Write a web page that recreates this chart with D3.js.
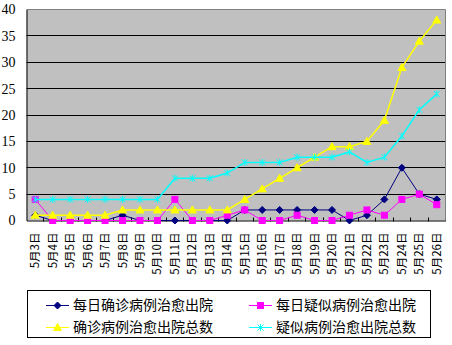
<!DOCTYPE html>
<html><head><meta charset="utf-8">
<script src="https://cdn.jsdelivr.net/npm/d3@7"></script>
<style>body{margin:0;background:#fff}svg{display:block}</style>
</head><body>
<svg id="chart" width="452" height="345"></svg>
<script>
// Discharges from hospital, 3–26 May
const days = ["5月3日","5月4日","5月5日","5月6日","5月7日","5月8日","5月9日","5月10日",
  "5月11日","5月12日","5月13日","5月14日","5月15日","5月16日","5月17日","5月18日",
  "5月19日","5月20日","5月21日","5月22日","5月23日","5月24日","5月25日","5月26日"];
const dailyConfirmed = [1,0,0,0,0,1,0,0,0,0,0,0,2,2,2,2,2,2,0,1,4,10,5,4];
const dailySuspected = [4,0,0,0,0,0,0,0,4,0,0,1,2,0,0,1,0,0,1,2,1,4,5,3];
const totalConfirmed = [1,1,1,1,1,2,2,2,2,2,2,2,4,6,8,10,12,14,14,15,19,29,34,38];
const totalSuspected = [4,4,4,4,4,4,4,4,8,8,8,9,11,11,11,12,12,12,13,11,12,16,21,24];
const yTicks = [0,5,10,15,20,25,30,35,40];
const seriesNames = ["每日确诊病例治愈出院","每日疑似病例治愈出院","确诊病例治愈出院总数","疑似病例治愈出院总数"];

const svg = d3.select("#chart");
const L = 26.5, R = 445.5, T = 9.5, B = 220.5;
const x = d3.scaleBand().domain(days).range([L, R]);
const cx = d => x(d) + x.bandwidth() / 2;
const y = d3.scaleLinear().domain([0, 40]).range([B, T]);
const crisp = v => Math.floor(v) + 0.5;

// plot area
svg.append("rect").attr("x", L).attr("y", T).attr("width", R - L).attr("height", B - T)
  .attr("fill", "#c0c0c0");
// grid lines
svg.append("g").selectAll("line").data(yTicks.filter(v => v > 0 && v < 40)).join("line")
  .attr("x1", L).attr("x2", R).attr("y1", d => crisp(y(d))).attr("y2", d => crisp(y(d)))
  .attr("stroke", "#000").attr("stroke-width", 1);
// border top/right
svg.append("path").attr("d", `M${L},${T}H${R}V${B}`).attr("fill", "none")
  .attr("stroke", "#808080").attr("stroke-width", 1);

// y axis
const yAxis = d3.axisLeft(y).tickValues(yTicks).tickSize(0).tickPadding(11);
const gy = svg.append("g").attr("transform", `translate(${L},0)`).call(yAxis);
gy.select(".domain").attr("stroke", "#000");
gy.selectAll("text").attr("font-family", "'Liberation Serif', serif").attr("font-size", 14)
  .attr("fill", "#000");

// x axis
const xAxis = d3.axisBottom(x).tickSize(0).tickPadding(0);
const gx = svg.append("g").attr("transform", `translate(0,${B})`).call(xAxis);
gx.select(".domain").attr("stroke", "#000");
gx.selectAll("text")
  .attr("font-family", "'Noto Sans CJK SC', sans-serif").attr("font-size", 11.5).attr("fill", "#000")
  .attr("text-anchor", "end").attr("transform", "rotate(-90)")
  .attr("x", -12).attr("y", 0).attr("dy", "0.35em");
// category separators on the axis
svg.append("g").selectAll("line").data(days.slice(1)).join("line")
  .attr("x1", d => crisp(x(d))).attr("x2", d => crisp(x(d)))
  .attr("y1", B - 3).attr("y2", B + 1).attr("stroke", "#000").attr("stroke-width", 1);

// marker drawers
function marker(g, type, color, px, py) {
  if (type === "diamond") {
    g.append("path").attr("d", `M${px},${py-3.5}L${px+3.5},${py}L${px},${py+3.5}L${px-3.5},${py}Z`)
      .attr("fill", color).attr("stroke", color);
  } else if (type === "square") {
    g.append("rect").attr("x", px - 3).attr("y", py - 3).attr("width", 6).attr("height", 6)
      .attr("fill", color).attr("stroke", color);
  } else if (type === "triangle") {
    g.append("path").attr("d", `M${px},${py-4}L${px+4},${py+3}L${px-4},${py+3}Z`)
      .attr("fill", color).attr("stroke", color);
  } else {
    g.append("path").attr("d", `M${px-3},${py-3}L${px+3},${py+3}M${px-3},${py+3}L${px+3},${py-3}M${px},${py-3.5}V${py+3.5}`)
      .attr("fill", "none").attr("stroke", color).attr("stroke-width", 1);
  }
}

const series = [
  {values: dailyConfirmed, color: "#000080", type: "diamond", w: 1},
  {values: dailySuspected, color: "#ff00ff", type: "square", w: 1},
  {values: totalConfirmed, color: "#ffff00", type: "triangle", w: 1.5},
  {values: totalSuspected, color: "#00ffff", type: "star", w: 1.5}
];
const line = d3.line().x((v, i) => cx(days[i])).y(v => y(v));
series.forEach(s => {
  const g = svg.append("g");
  g.append("path").attr("d", line(s.values)).attr("fill", "none")
    .attr("stroke", s.color).attr("stroke-width", s.w);
  s.values.forEach((v, i) => marker(g, s.type, s.color, cx(days[i]), y(v)));
});

// legend
const lg = svg.append("g");
lg.append("rect").attr("x", 27.5).attr("y", 290.5).attr("width", 403).attr("height", 47)
  .attr("fill", "#fff").attr("stroke", "#000");
const pos = [[46, 305], [249, 305], [46, 327], [249, 327]];
series.forEach((s, i) => {
  const [lx, ly] = pos[i];
  lg.append("line").attr("x1", lx).attr("x2", lx + 23).attr("y1", ly + 0.5).attr("y2", ly + 0.5)
    .attr("stroke", s.color).attr("stroke-width", 1);
  marker(lg, s.type, s.color, lx + 11.5, ly + 0.5);
  lg.append("text").attr("x", lx + 27).attr("y", ly).attr("dy", "0.36em")
    .attr("font-family", "'Noto Sans CJK SC', sans-serif").attr("font-size", 14)
    .attr("fill", "#000").text(seriesNames[i]);
});
</script>
</body></html>
